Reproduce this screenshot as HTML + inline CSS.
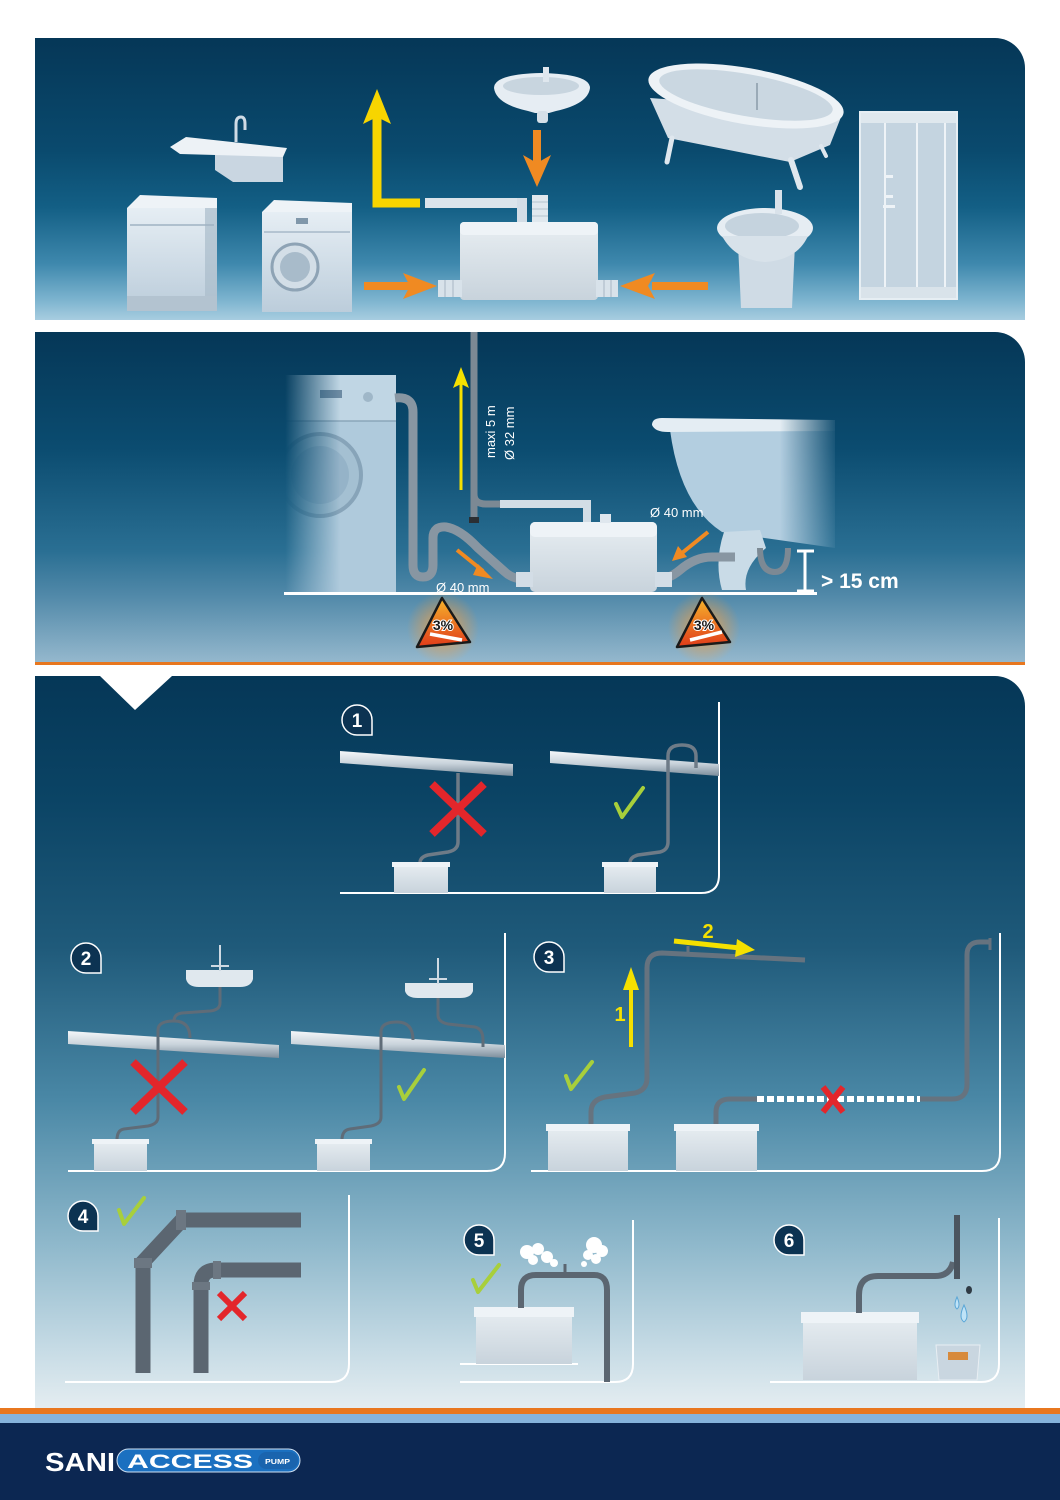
<!DOCTYPE html>
<html><head><meta charset="utf-8"><style>
html,body{margin:0;padding:0;background:#fff;}
svg{display:block;}
text{font-family:"Liberation Sans",sans-serif;}
</style></head><body>
<svg width="1060" height="1500" viewBox="0 0 1060 1500" xmlns="http://www.w3.org/2000/svg">
<defs>
 <linearGradient id="g1" x1="0" y1="38" x2="0" y2="320" gradientUnits="userSpaceOnUse">
  <stop offset="0" stop-color="#053757"/>
  <stop offset="0.4" stop-color="#0a4a6e"/>
  <stop offset="0.6" stop-color="#135f85"/>
  <stop offset="0.8" stop-color="#3e88ad"/>
  <stop offset="0.93" stop-color="#7db4cf"/>
  <stop offset="1" stop-color="#a8cde0"/>
 </linearGradient>
 <linearGradient id="g2" x1="0" y1="332" x2="0" y2="664" gradientUnits="userSpaceOnUse">
  <stop offset="0" stop-color="#053757"/>
  <stop offset="0.35" stop-color="#0b4c70"/>
  <stop offset="0.66" stop-color="#2a6f93"/>
  <stop offset="0.79" stop-color="#5088a8"/>
  <stop offset="1" stop-color="#96b9ce"/>
 </linearGradient>
 <linearGradient id="g3" x1="0" y1="676" x2="0" y2="1408" gradientUnits="userSpaceOnUse">
  <stop offset="0" stop-color="#053757"/>
  <stop offset="0.17" stop-color="#0b4465"/>
  <stop offset="0.37" stop-color="#1f5a7a"/>
  <stop offset="0.58" stop-color="#4a88a6"/>
  <stop offset="0.78" stop-color="#90b9cc"/>
  <stop offset="0.92" stop-color="#c6dbe5"/>
  <stop offset="1" stop-color="#e4edf1"/>
 </linearGradient>
 <linearGradient id="app" x1="0" y1="0" x2="0" y2="1">
  <stop offset="0" stop-color="#e6eef4"/>
  <stop offset="1" stop-color="#bccddb"/>
 </linearGradient>
 <linearGradient id="pump" x1="0" y1="0" x2="0" y2="1">
  <stop offset="0" stop-color="#e8eef2"/>
  <stop offset="1" stop-color="#c8d3dc"/>
 </linearGradient>
 <linearGradient id="beam" x1="0" y1="0" x2="0" y2="1">
  <stop offset="0" stop-color="#f4f7f9"/>
  <stop offset="0.5" stop-color="#c9d3db"/>
  <stop offset="1" stop-color="#7d8e9c"/>
 </linearGradient>
 <linearGradient id="tri" x1="0" y1="0" x2="0" y2="1">
  <stop offset="0" stop-color="#f7b52c"/>
  <stop offset="1" stop-color="#e03a1a"/>
 </linearGradient>
 <radialGradient id="glow">
  <stop offset="0" stop-color="#ffb040" stop-opacity="0.85"/>
  <stop offset="0.6" stop-color="#f39a3a" stop-opacity="0.35"/>
  <stop offset="1" stop-color="#f39a3a" stop-opacity="0"/>
 </radialGradient>
 <linearGradient id="fadeL" x1="285" y1="0" x2="340" y2="0" gradientUnits="userSpaceOnUse">
  <stop offset="0" stop-color="#000"/>
  <stop offset="1" stop-color="#fff"/>
 </linearGradient>
 <linearGradient id="fadeR" x1="780" y1="0" x2="840" y2="0" gradientUnits="userSpaceOnUse">
  <stop offset="0" stop-color="#fff"/>
  <stop offset="1" stop-color="#000"/>
 </linearGradient>
 <mask id="mwm"><rect x="280" y="365" width="125" height="232" fill="url(#fadeL)"/></mask>
 <mask id="mtub"><rect x="640" y="410" width="200" height="185" fill="url(#fadeR)"/></mask>
</defs>

<rect width="1060" height="1500" fill="#fff"/>

<!-- PANEL 1 -->
<path d="M35,38 H995 A30,30 0 0 1 1025,68 V320 H35 Z" fill="url(#g1)"/>

<!-- dishwasher -->
<polygon points="127,208 140,195 217,198 217,210" fill="#eef3f7"/>
<rect x="127" y="208" width="90" height="100" fill="url(#app)"/>
<rect x="205" y="208" width="12" height="100" fill="#a9bccb" opacity="0.7"/>
<line x1="130" y1="225" x2="214" y2="225" stroke="#9fb2c2" stroke-width="1.5"/>
<rect x="127" y="296" width="90" height="15" fill="#b3c3d0"/>

<!-- washing machine -->
<polygon points="262,212 274,200 352,203 352,213" fill="#eef3f7"/>
<rect x="262" y="212" width="90" height="100" fill="url(#app)"/>
<line x1="264" y1="232" x2="350" y2="232" stroke="#a7b9c8" stroke-width="1.5"/>
<rect x="296" y="218" width="12" height="6" fill="#8097aa"/>
<circle cx="295" cy="267" r="23" fill="#d3dee7" stroke="#8ea3b5" stroke-width="3"/>
<circle cx="295" cy="267" r="15" fill="#a8bbca"/>

<!-- kitchen sink -->
<polygon points="215,150 283,150 283,182 233,182 215,170" fill="#c9d6e1"/>
<polygon points="170,147 186,137 287,148 283,157 180,154" fill="#edf2f6"/>
<path d="M236,142 V124 Q236,117 241,117 Q245,117 245,124 V130" stroke="#cfdbe5" stroke-width="3" fill="none"/>

<!-- yellow L arrow -->
<path d="M420,203 H377 V115" stroke="#f7d500" stroke-width="9" fill="none"/>
<polygon points="363,124 377,89 391,124 377,117" fill="#f7d500"/>

<!-- pipes into pump -->
<rect x="425" y="198" width="100" height="10" fill="#dbe4eb"/>
<rect x="517" y="198" width="10" height="26" fill="#d3dde6"/>
<rect x="532" y="195" width="16" height="29" fill="#e0e8ee"/>
<line x1="532" y1="202" x2="548" y2="202" stroke="#b4c3cf"/>
<line x1="532" y1="209" x2="548" y2="209" stroke="#b4c3cf"/>
<line x1="532" y1="216" x2="548" y2="216" stroke="#b4c3cf"/>
<!-- pump -->
<rect x="460" y="222" width="138" height="78" rx="4" fill="url(#pump)"/>
<rect x="460" y="222" width="138" height="13" rx="4" fill="#eef3f7"/>
<rect x="438" y="280" width="24" height="17" fill="#d8e2ea"/>
<line x1="445" y1="280" x2="445" y2="297" stroke="#a7b7c4"/>
<line x1="453" y1="280" x2="453" y2="297" stroke="#a7b7c4"/>
<rect x="596" y="280" width="22" height="17" fill="#d8e2ea"/>
<line x1="604" y1="280" x2="604" y2="297" stroke="#a7b7c4"/>
<line x1="611" y1="280" x2="611" y2="297" stroke="#a7b7c4"/>

<!-- orange arrows -->
<line x1="537" y1="130" x2="537" y2="165" stroke="#f08a22" stroke-width="8"/>
<polygon points="523,155 537,187 551,155 537,163" fill="#f08a22"/>
<line x1="364" y1="286" x2="410" y2="286" stroke="#f08a22" stroke-width="8"/>
<polygon points="403,273 437,286 403,299 410,286" fill="#f08a22"/>
<line x1="708" y1="286" x2="652" y2="286" stroke="#f08a22" stroke-width="8"/>
<polygon points="655,273 620,286 655,299 648,286" fill="#f08a22"/>

<!-- wash basin -->
<path d="M494,88 Q494,74 541,73 Q590,74 590,88 Q588,104 556,111 L549,113 L535,113 L528,111 Q496,104 494,88 Z" fill="#e6edf3"/>
<ellipse cx="541" cy="86" rx="38" ry="9" fill="#c8d5df"/>
<rect x="537" y="111" width="11" height="12" rx="3" fill="#d6e0e8"/>
<rect x="543" y="67" width="6" height="15" fill="#dfe7ee"/>

<!-- bathtub -->
<path d="M650,98 L668,138 L790,162 L830,145 L843,112 Z" fill="#d3dee7"/>
<ellipse cx="746" cy="96" rx="99" ry="28" transform="rotate(10 746 96)" fill="#edf2f6"/>
<ellipse cx="746" cy="95" rx="88" ry="21" transform="rotate(10 746 95)" fill="#cad7e1"/>
<line x1="757" y1="83" x2="757" y2="110" stroke="#9aaab7" stroke-width="2"/>
<path d="M672,138 L667,162" stroke="#dfe7ee" stroke-width="5" stroke-linecap="round"/>
<path d="M791,160 L800,187" stroke="#dfe7ee" stroke-width="6" stroke-linecap="round"/>
<path d="M821,146 L826,156" stroke="#dfe7ee" stroke-width="4" stroke-linecap="round"/>

<!-- bidet -->
<path d="M738,244 L741,308 L792,308 L795,244 Z" fill="#cfdbe5"/>
<ellipse cx="765" cy="228" rx="48" ry="20" fill="#e6edf3"/>
<ellipse cx="762" cy="226" rx="37" ry="13" fill="#c5d3de"/>
<path d="M722,236 Q735,260 765,262 Q797,260 808,236" fill="#d8e2ea"/>
<rect x="775" y="190" width="7" height="24" fill="#d9e2ea"/>

<!-- shower -->
<rect x="860" y="112" width="97" height="187" fill="#c4d4e0"/>
<rect x="860" y="112" width="97" height="11" fill="#dfe8ee"/>
<rect x="860" y="287" width="97" height="12" fill="#d9e3ea"/>
<rect x="860" y="112" width="97" height="187" fill="none" stroke="#e6eef3" stroke-width="2"/>
<line x1="885" y1="123" x2="885" y2="287" stroke="#eef3f7" stroke-width="2"/>
<line x1="917" y1="123" x2="917" y2="287" stroke="#eef3f7" stroke-width="2"/>
<line x1="945" y1="123" x2="945" y2="287" stroke="#eef3f7" stroke-width="2"/>
<rect x="885" y="175" width="8" height="3" fill="#eef3f7"/>
<rect x="885" y="195" width="8" height="3" fill="#eef3f7"/>
<rect x="883" y="205" width="12" height="3" fill="#eef3f7"/>

<!-- PANEL 2 -->
<path d="M35,332 H995 A30,30 0 0 1 1025,362 V664 H35 Z" fill="url(#g2)"/>
<rect x="35" y="662" width="990" height="3" fill="#e8771f"/>

<!-- faded washing machine -->
<g mask="url(#mwm)">
 <rect x="285" y="375" width="111" height="217" fill="#afcadc"/>
 <rect x="285" y="375" width="111" height="46" fill="#c0d6e4"/>
 <line x1="285" y1="421" x2="396" y2="421" stroke="#8aa6ba" stroke-width="1.5"/>
 <rect x="320" y="390" width="22" height="8" fill="#6d8ba3"/>
 <circle cx="368" cy="397" r="5" fill="#9fb7c8"/>
 <circle cx="320" cy="475" r="41" fill="#a4c0d2" stroke="#87a4b9" stroke-width="4"/>
 <circle cx="320" cy="475" r="29" fill="#95b3c8"/>
</g>
<!-- washer hose -->
<path d="M395,398 Q413,396 413,412 L413,565 Q413,577 423,577 Q433,577 433,565 L433,538 Q433,526 446,527 Q460,529 478,548 L505,572 Q513,580 533,580" stroke="#8896a2" stroke-width="9" fill="none"/>
<!-- vertical discharge pipe -->
<line x1="474" y1="332" x2="474" y2="520" stroke="#7c8994" stroke-width="7"/>
<rect x="469" y="517" width="10" height="6" fill="#2b2f33"/>
<path d="M474,494 Q474,504 486,504 L500,504" stroke="#7c8994" stroke-width="7" fill="none"/>
<path d="M500,504 L587,504 L587,522" stroke="#d3dde5" stroke-width="8" fill="none"/>
<!-- yellow arrow -->
<line x1="461" y1="382" x2="461" y2="490" stroke="#f5e000" stroke-width="3"/>
<polygon points="453,388 461,367 469,388 461,384" fill="#f5e000"/>
<text transform="translate(495,458) rotate(-90)" font-size="13" fill="#fff">maxi 5 m</text>
<text transform="translate(514,460) rotate(-90)" font-size="13" fill="#fff">Ø 32 mm</text>

<!-- faded bathtub -->
<g mask="url(#mtub)">
 <path d="M670,430 Q680,505 722,532 L835,548 L835,430 Z" fill="#b3cee0"/>
 <path d="M652,425 Q652,418 662,418 L835,420 L835,431 L668,432 Q655,432 652,425 Z" fill="#e4edf3"/>
</g>
<path d="M724,532 Q714,562 722,590 L746,590 Q742,568 766,548 L760,530 Z" fill="#c9dbe7"/>
<!-- right pipe -->
<path d="M655,580 Q668,580 680,570 Q695,557 712,557 L735,557" stroke="#8896a2" stroke-width="9" fill="none"/>
<path d="M760,548 Q760,572 775,572 Q788,572 788,548" stroke="#7c8994" stroke-width="6" fill="none"/>

<!-- pump panel 2 -->
<rect x="530" y="522" width="127" height="70" rx="5" fill="url(#pump)"/>
<rect x="530" y="522" width="127" height="15" rx="5" fill="#eef3f7"/>
<rect x="600" y="514" width="11" height="9" fill="#dfe7ee"/>
<rect x="516" y="572" width="17" height="15" fill="#d3dde6"/>
<rect x="655" y="572" width="17" height="15" fill="#d3dde6"/>

<!-- orange arrows -->
<line x1="457" y1="550" x2="483" y2="571" stroke="#f08a22" stroke-width="4"/>
<polygon points="478,564 493,579 473,575" fill="#f08a22"/>
<line x1="708" y1="532" x2="682" y2="553" stroke="#f08a22" stroke-width="4"/>
<polygon points="678,546 672,561 687,557" fill="#f08a22"/>

<text x="436" y="592" font-size="13" fill="#fff">Ø 40 mm</text>
<text x="650" y="517" font-size="13" fill="#fff">Ø 40 mm</text>

<!-- floor -->
<rect x="284" y="592" width="533" height="3" fill="#fff"/>
<!-- dimension -->
<line x1="805" y1="551" x2="805" y2="591" stroke="#fff" stroke-width="3"/>
<line x1="797" y1="551" x2="814" y2="551" stroke="#fff" stroke-width="3"/>
<line x1="797" y1="591" x2="814" y2="591" stroke="#fff" stroke-width="3"/>
<text x="821" y="588" font-size="21" font-weight="bold" fill="#fff">&gt; 15 cm</text>

<!-- warning triangles -->
<circle cx="443" cy="628" r="36" fill="url(#glow)"/>
<polygon points="442,598 417,647 470,642" fill="url(#tri)" stroke="#1a1a1a" stroke-width="2.5" stroke-linejoin="round"/>
<text x="443" y="630" font-size="14" font-weight="bold" fill="#1a1a1a" stroke="#fff" stroke-width="2" paint-order="stroke" text-anchor="middle">3%</text>
<line x1="430" y1="634" x2="462" y2="640" stroke="#fff" stroke-width="3.5"/>
<circle cx="704" cy="628" r="36" fill="url(#glow)"/>
<polygon points="702,598 677,647 730,642" fill="url(#tri)" stroke="#1a1a1a" stroke-width="2.5" stroke-linejoin="round"/>
<text x="704" y="630" font-size="14" font-weight="bold" fill="#1a1a1a" stroke="#fff" stroke-width="2" paint-order="stroke" text-anchor="middle">3%</text>
<line x1="690" y1="640" x2="722" y2="632" stroke="#fff" stroke-width="3.5"/>

<!-- PANEL 3 -->
<path d="M35,676 H100 L135,710 L172,676 H995 A30,30 0 0 1 1025,706 V1408 H35 Z" fill="url(#g3)"/>

<g fill="none" stroke="#fff" stroke-width="2">
 <path d="M340,893 H701 Q719,893 719,875 V702"/>
 <path d="M68,1171 H487 Q505,1171 505,1153 V933"/>
 <path d="M531,1171 H982 Q1000,1171 1000,1153 V933"/>
 <path d="M65,1382 H331 Q349,1382 349,1364 V1195"/>
 <path d="M460,1382 H615 Q633,1382 633,1364 V1220"/>
 <path d="M770,1382 H981 Q999,1382 999,1364 V1218"/>
 <path d="M460,1364 H578"/>
</g>

<!-- badges -->
<g fill="#0c3352" stroke="#fff" stroke-width="1.5">
 <path d="M342,720 A15,15 0 1 1 372,720 L372,735 L357,735 A15,15 0 0 1 342,720 Z"/>
 <path d="M71,958 A15,15 0 1 1 101,958 L101,973 L86,973 A15,15 0 0 1 71,958 Z"/>
 <path d="M534,957 A15,15 0 1 1 564,957 L564,972 L549,972 A15,15 0 0 1 534,957 Z"/>
 <path d="M68,1216 A15,15 0 1 1 98,1216 L98,1231 L83,1231 A15,15 0 0 1 68,1216 Z"/>
 <path d="M464,1240 A15,15 0 1 1 494,1240 L494,1255 L479,1255 A15,15 0 0 1 464,1240 Z"/>
 <path d="M774,1240 A15,15 0 1 1 804,1240 L804,1255 L789,1255 A15,15 0 0 1 774,1240 Z"/>
</g>
<g font-size="19" font-weight="bold" fill="#fff" text-anchor="middle">
 <text x="357" y="727">1</text>
 <text x="86" y="965">2</text>
 <text x="549" y="964">3</text>
 <text x="83" y="1223">4</text>
 <text x="479" y="1247">5</text>
 <text x="789" y="1247">6</text>
</g>

<!-- sub-panel 1 -->
<polygon points="340,751 513,764 513,776 340,763" fill="url(#beam)"/>
<polygon points="550,751 719,764 719,776 550,763" fill="url(#beam)"/>
<g stroke="#6e7b87" stroke-width="3.5" fill="none">
 <path d="M458,773 L458,842 Q458,850 448,852 L428,855 Q420,857 420,863"/>
 <path d="M630,863 Q630,857 638,855 L660,852 Q668,850 668,842 L668,756 Q668,745 682,745 Q696,745 696,756 L696,768"/>
</g>
<rect x="394" y="863" width="54" height="30" fill="url(#pump)"/>
<rect x="392" y="862" width="58" height="5" fill="#eef3f7"/>
<rect x="604" y="863" width="52" height="30" fill="url(#pump)"/>
<rect x="602" y="862" width="56" height="5" fill="#eef3f7"/>
<g stroke="#e3262b" stroke-width="8">
 <line x1="432" y1="784" x2="484" y2="834"/>
 <line x1="484" y1="784" x2="432" y2="834"/>
</g>
<path d="M616,804 L622,817 L643,788" stroke="#a8cf3b" stroke-width="4" fill="none" stroke-linecap="round" stroke-linejoin="round"/>

<!-- sub-panel 2 -->
<polygon points="68,1031 279,1045 279,1058 68,1044" fill="url(#beam)"/>
<polygon points="291,1031 505,1045 505,1058 291,1044" fill="url(#beam)"/>
<path d="M186,970 H253 V979 Q251,987 240,987 H199 Q188,987 186,979 Z" fill="#e0e8ee"/>
<line x1="220" y1="945" x2="220" y2="971" stroke="#cfdae3" stroke-width="2"/>
<line x1="211" y1="966" x2="229" y2="966" stroke="#cfdae3" stroke-width="2"/>
<path d="M405,983 H473 V991 Q471,998 460,998 H418 Q407,998 405,991 Z" fill="#e0e8ee"/>
<line x1="438" y1="958" x2="438" y2="984" stroke="#cfdae3" stroke-width="2"/>
<line x1="429" y1="979" x2="447" y2="979" stroke="#cfdae3" stroke-width="2"/>
<g stroke="#5f6c78" stroke-width="3" fill="none">
 <path d="M220,987 L220,1003 Q220,1010 210,1011 L182,1013 Q174,1014 174,1021"/>
 <path d="M158,1117 L158,1030 Q158,1021 174,1021 Q190,1021 190,1038"/>
 <path d="M158,1117 Q158,1124 148,1126 L124,1129 Q117,1130 117,1140"/>
 <path d="M438,998 L438,1015 Q438,1022 448,1024 L475,1027 Q483,1029 483,1040 L483,1047"/>
 <path d="M381,1117 L381,1032 Q381,1022 397,1022 Q413,1022 413,1040"/>
 <path d="M381,1117 Q381,1124 371,1126 L350,1129 Q342,1130 342,1140"/>
</g>
<rect x="94" y="1140" width="53" height="31" fill="url(#pump)"/>
<rect x="92" y="1139" width="57" height="5" fill="#eef3f7"/>
<rect x="317" y="1140" width="53" height="31" fill="url(#pump)"/>
<rect x="315" y="1139" width="57" height="5" fill="#eef3f7"/>
<g stroke="#e3262b" stroke-width="8">
 <line x1="133" y1="1062" x2="185" y2="1112"/>
 <line x1="185" y1="1062" x2="133" y2="1112"/>
</g>
<path d="M399,1087 L404,1099 L424,1070" stroke="#a8cf3b" stroke-width="4" fill="none" stroke-linecap="round" stroke-linejoin="round"/>

<!-- sub-panel 3 -->
<g stroke="#66737f" stroke-width="5" fill="none">
 <path d="M591,1125 L591,1112 Q591,1100 605,1097 L635,1093 Q647,1090 647,1078 L647,968 Q647,953 662,953 L805,960"/>
 <path d="M716,1125 L716,1112 Q716,1099 730,1099 L757,1099"/>
 <path d="M920,1099 L952,1099 Q967,1099 967,1084 L967,955 Q967,942 980,942 L990,942"/>
</g>
<line x1="688" y1="946" x2="688" y2="954" stroke="#66737f" stroke-width="3"/>
<line x1="990" y1="938" x2="990" y2="950" stroke="#66737f" stroke-width="3"/>
<line x1="757" y1="1099" x2="920" y2="1099" stroke="#fff" stroke-width="6" stroke-dasharray="7,3"/>
<rect x="548" y="1125" width="80" height="46" fill="url(#pump)"/>
<rect x="546" y="1124" width="84" height="7" fill="#eef3f7"/>
<rect x="676" y="1125" width="81" height="46" fill="url(#pump)"/>
<rect x="674" y="1124" width="85" height="7" fill="#eef3f7"/>
<line x1="631" y1="1047" x2="631" y2="985" stroke="#f5e000" stroke-width="4"/>
<polygon points="623,990 631,967 639,990" fill="#f5e000"/>
<text x="620" y="1021" font-size="20" font-weight="bold" fill="#f5e000" text-anchor="middle">1</text>
<line x1="674" y1="941" x2="740" y2="948" stroke="#f5e000" stroke-width="5"/>
<polygon points="737,939 755,950 735,957" fill="#f5e000"/>
<text x="708" y="938" font-size="20" font-weight="bold" fill="#f5e000" text-anchor="middle">2</text>
<path d="M566,1076 L571,1089 L592,1062" stroke="#a8cf3b" stroke-width="4" fill="none" stroke-linecap="round" stroke-linejoin="round"/>
<g stroke="#e3262b" stroke-width="6">
 <line x1="823" y1="1087" x2="843" y2="1112"/>
 <line x1="843" y1="1087" x2="823" y2="1112"/>
</g>

<!-- sub-panel 4 -->
<g stroke="#5b6671" stroke-width="15" fill="none">
 <path d="M143,1373 L143,1262 L182,1220 L301,1220"/>
 <path d="M201,1373 L201,1285 Q201,1270 216,1270 L301,1270"/>
</g>
<g fill="#6c7782">
 <rect x="134" y="1258" width="18" height="10"/>
 <rect x="176" y="1210" width="10" height="20"/>
 <rect x="192" y="1282" width="18" height="8"/>
 <rect x="213" y="1261" width="8" height="18"/>
</g>
<path d="M119,1210 L124,1224 L144,1198" stroke="#a8cf3b" stroke-width="4" fill="none" stroke-linecap="round" stroke-linejoin="round"/>
<g stroke="#e3262b" stroke-width="6">
 <line x1="219" y1="1293" x2="245" y2="1319"/>
 <line x1="245" y1="1293" x2="219" y2="1319"/>
</g>

<!-- sub-panel 5 -->
<rect x="476" y="1308" width="96" height="56" fill="url(#pump)"/>
<rect x="474" y="1307" width="100" height="10" fill="#eef3f7"/>
<path d="M521,1308 L521,1290 Q521,1275 536,1275 L594,1275 Q607,1275 607,1290 L607,1382" stroke="#5b6671" stroke-width="6" fill="none"/>
<line x1="565" y1="1275" x2="565" y2="1264" stroke="#5b6671" stroke-width="3"/>
<g fill="#fff">
 <circle cx="527" cy="1252" r="7"/><circle cx="538" cy="1249" r="6"/><circle cx="547" cy="1257" r="6"/><circle cx="533" cy="1260" r="5"/><circle cx="554" cy="1263" r="4"/>
 <circle cx="594" cy="1245" r="8"/><circle cx="602" cy="1251" r="6"/><circle cx="588" cy="1255" r="5"/><circle cx="596" cy="1259" r="5"/><circle cx="584" cy="1264" r="3"/>
</g>
<path d="M473,1280 L478,1292 L499,1265" stroke="#a8cf3b" stroke-width="4" fill="none" stroke-linecap="round" stroke-linejoin="round"/>

<!-- sub-panel 6 -->
<rect x="803" y="1313" width="114" height="67" fill="url(#pump)"/>
<rect x="801" y="1312" width="118" height="11" fill="#eef3f7"/>
<path d="M859,1313 L859,1295 Q859,1276 878,1276 L935,1276 Q950,1276 953,1262" stroke="#5b6671" stroke-width="6" fill="none"/>
<line x1="957" y1="1215" x2="957" y2="1279" stroke="#4b555f" stroke-width="6"/>
<ellipse cx="969" cy="1290" rx="3" ry="4" fill="#2f3a44"/>
<path d="M957,1297 Q953,1306 957,1309 Q961,1306 957,1297 Z" fill="#bfe3f7" stroke="#5aa6d6"/>
<path d="M964,1305 Q958,1318 964,1322 Q970,1318 964,1305 Z" fill="#bfe3f7" stroke="#5aa6d6"/>
<polygon points="936,1345 980,1345 977,1380 939,1380" fill="#c9d6e0" stroke="#e8eef3"/>
<rect x="948" y="1352" width="20" height="8" fill="#d78a3c"/>

<!-- FOOTER -->
<rect x="0" y="1408" width="1060" height="6" fill="#e8771f"/>
<rect x="0" y="1414" width="1060" height="9" fill="#86b3dc"/>
<rect x="0" y="1423" width="1060" height="77" fill="#0c2752"/>
<text x="45" y="1471" font-size="26" font-weight="bold" fill="#fff" textLength="70" lengthAdjust="spacingAndGlyphs">SANI</text>
<rect x="117" y="1449" width="183" height="23" rx="11.5" fill="#1b70c0" stroke="#cfe0f2" stroke-width="1"/>
<rect x="258" y="1452" width="40" height="17" rx="8.5" fill="#1a64ae"/>
<text x="127" y="1468" font-size="19" font-weight="bold" fill="#fff" textLength="126" lengthAdjust="spacingAndGlyphs">ACCESS</text>
<text x="265" y="1464" font-size="7" font-weight="bold" fill="#fff" textLength="25" lengthAdjust="spacingAndGlyphs">PUMP</text>
</svg>
</body></html>
